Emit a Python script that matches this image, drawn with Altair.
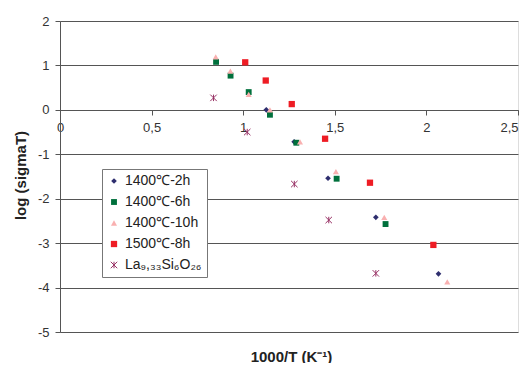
import altair as alt
import pandas as pd

S1 = "1400℃-2h"
S2 = "1400℃-6h"
S3 = "1400℃-10h"
S4 = "1500℃-8h"
S5 = "La₉,₃₃Si₆O₂₆"
series_names = [S1, S2, S3, S4, S5]

x_2h = [1.126, 1.278, 1.463, 1.724, 2.066]
y_2h = [0.0, -0.72, -1.54, -2.42, -3.69]

x_6h = [0.852, 0.931, 1.03, 1.146, 1.29, 1.51, 1.777]
y_6h = [1.08, 0.77, 0.40, -0.11, -0.74, -1.55, -2.57]

x_10h = [0.85, 0.93, 1.03, 1.146, 1.31, 1.506, 1.77, 2.114]
y_10h = [1.19, 0.87, 0.35, 0.0, -0.72, -1.39, -2.42, -3.87]

x_8h = [1.011, 1.123, 1.265, 1.447, 1.692, 2.038]
y_8h = [1.07, 0.66, 0.13, -0.65, -1.64, -3.04]

x_la = [0.838, 1.022, 1.279, 1.467, 1.724]
y_la = [0.27, -0.50, -1.67, -2.48, -3.68]

x_ticks = [0, 0.5, 1, 1.5, 2, 2.5]
y_ticks = [2, 1, 0, -1, -2, -3, -4, -5]

rows = []
for name, xs, ys in [(S1, x_2h, y_2h), (S2, x_6h, y_6h), (S3, x_10h, y_10h),
                     (S4, x_8h, y_8h), (S5, x_la, y_la)]:
    for a, b in zip(xs, ys):
        rows.append({"series": name, "x": a, "y": b, "order": series_names.index(name)})
df = pd.DataFrame(rows)

fill_colors = ["#2e2e6e", "#00703c", "#f9b0b0", "#ee1c24", "transparent"]
stroke_colors = ["transparent", "transparent", "transparent", "transparent", "#993366"]
shapes = ["diamond", "square", "triangle-up", "square", "M-1,-1L1,1M-1,1L1,-1M0,-1L0,1"]
sizes = [32, 42, 55, 40, 121]

W, H = 458, 311

legend = alt.Legend(title=None, orient="none", legendX=42, legendY=148,
                    fillColor="white", strokeColor="#777", padding=5,
                    labelFontSize=14, labelFont="Liberation Sans", labelColor="#222",
                    rowPadding=7, labelOffset=4, symbolStrokeWidth=1)

chart = alt.Chart(df).mark_point(filled=False, opacity=1, strokeWidth=1).encode(
    x=alt.X("x:Q", scale=alt.Scale(domain=[0, 2.5], nice=False),
            axis=alt.Axis(values=x_ticks, offset=-222, grid=False, domain=True,
                          domainColor="#555", ticks=True, tickSize=5, tickColor="#555",
                          labelExpr="replace(toString(datum.value), '.', ',')",
                          labelAlign=alt.condition("datum.value == 2.5", alt.value("right"), alt.value("center")),
                          labelFontSize=13, labelFont="Liberation Sans", labelColor="#333",
                          labelPadding=6, labelFlush=False,
                          title="1000/T (K⁻¹)", titleFontSize=15, titleFont="Liberation Sans",
                          titleFontWeight="bold", titleColor="#222",
                          titleX=231, titleY=246, titleBaseline="middle", titleAlign="center")),
    y=alt.Y("y:Q", scale=alt.Scale(domain=[-5, 2], nice=False),
            axis=alt.Axis(values=y_ticks, grid=True, gridColor="#555", gridOpacity=1,
                          domain=True, domainColor="#555", tickSize=5, tickColor="#555",
                          labelExpr="'' + datum.value",
                          labelFontSize=13, labelFont="Liberation Sans", labelColor="#333",
                          labelPadding=6,
                          title="log (sigmaT)", titleFontSize=15, titleFont="Liberation Sans",
                          titleFontWeight="bold", titleColor="#222",
                          titleX=-40, titleY=154, titleBaseline="middle", titleAlign="center",
                          titleAngle=270)),
    fill=alt.Fill("series:N", scale=alt.Scale(domain=series_names, range=fill_colors), legend=legend),
    stroke=alt.Stroke("series:N", scale=alt.Scale(domain=series_names, range=stroke_colors), legend=legend),
    shape=alt.Shape("series:N", scale=alt.Scale(domain=series_names, range=shapes), legend=legend),
    size=alt.Size("series:N", scale=alt.Scale(domain=series_names, range=sizes), legend=legend),
    order=alt.Order("order:Q"),
).properties(
    width=W, height=H,
    autosize=alt.AutoSizeParams(type="none"),
    padding={"left": 52, "top": 13, "right": 6, "bottom": 31},
).configure_view(stroke="#555", strokeWidth=1).configure(background="white")

chart.save("out.html", embed_options={"renderer": "svg", "actions": False})
